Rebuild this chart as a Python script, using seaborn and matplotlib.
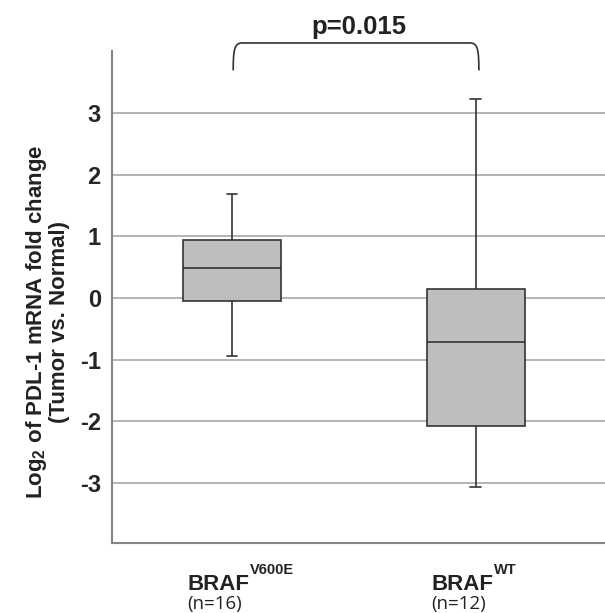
import matplotlib
matplotlib.use("Agg")
import matplotlib.pyplot as plt
from matplotlib.path import Path
from matplotlib.patches import PathPatch
import seaborn as sns
import pandas as pd

# ---- data (five-number summaries) ----
genotypes = ["V600E", "WT"]
n_samples = [16, 12]
v600e_summary = [-0.94, -0.05, 0.49, 0.94, 1.68]   # min, q1, median, q3, max
wt_summary = [-3.06, -2.08, -0.71, 0.15, 3.23]
y_ticks = [-3, -2, -1, 0, 1, 2, 3]
p_value_label = "p=0.015"

df = pd.DataFrame({
    "genotype": [genotypes[0]] * len(v600e_summary) + [genotypes[1]] * len(wt_summary),
    "value": v600e_summary + wt_summary,
})

sns.set_style("white")
plt.rcParams["font.family"] = ["Liberation Sans", "DejaVu Sans"]
plt.rcParams["axes.unicode_minus"] = False
plt.rcParams["mathtext.fontset"] = "custom"
plt.rcParams["mathtext.rm"] = "Liberation Sans"
plt.rcParams["mathtext.bf"] = "Liberation Sans:bold"

fig = plt.figure(figsize=(6.05, 6.13), dpi=100)
ax = fig.add_axes([0.1851, 0.1142, 0.8149, 0.8031])

sns.boxplot(data=df, x="genotype", y="value", order=genotypes, ax=ax,
            whis=(0, 100), width=0.4, color="#bebebe", saturation=1,
            linecolor="#333333", linewidth=1.2, capwidths=0.045)

ax.set_xlim(-0.492, 1.529)
ax.set_ylim(-3.97, 4.01)
ax.set_yticks(y_ticks)
ax.set_yticklabels([str(t) for t in y_ticks], fontsize=17, fontweight="bold")
ax.set_xticks([0, 1])
ax.set_xticklabels(["", ""])
ax.tick_params(axis="both", length=0)
ax.tick_params(axis="y", pad=8)
ax.set_xlabel("")
ax.set_ylabel("")
ax.yaxis.grid(True, color="#a8a8a8", linewidth=1.2)
ax.set_axisbelow(True)
for s in ["top", "right"]:
    ax.spines[s].set_visible(False)
for s in ["left", "bottom"]:
    ax.spines[s].set_color("#858585")
    ax.spines[s].set_linewidth(1.5)

# category labels
trans = ax.get_xaxis_transform()
for i, (g, n) in enumerate(zip(genotypes, n_samples)):
    t = ax.text(i - 0.183, -0.0955, "BRAF", transform=trans, fontsize=16,
                fontweight="bold", ha="left", va="baseline", color="#222222")
    ax.annotate(g, xy=(1, 1), xycoords=t, xytext=(0.3, 0.3),
                textcoords="offset points", fontsize=10.5, fontweight="bold",
                ha="left", va="baseline", color="#222222")
    ax.text(i - 0.183, -0.124, f"(n={n})", transform=trans, fontsize=13.5,
            family="Open Sans", ha="left", va="center", color="#222222")

# y label
fig.text(47 / 605, 1 - 322 / 613,
         "Log$_{\\mathbf{2}}$ of PDL-1 mRNA fold change\n(Tumor vs. Normal)",
         rotation=90, ha="center", va="center", multialignment="center",
         fontsize=16, fontweight="bold", linespacing=1.0, color="#222222")

# significance bracket
x0, x1 = 0.005, 1.012
yb, yt = 3.69, 4.135
dx = 0.035
verts = [(x0, yb), (x0, yb + 0.7 * (yt - yb)), (x0 + 0.1 * dx, yt), (x0 + dx, yt),
         (x1 - dx, yt),
         (x1 - 0.1 * dx, yt), (x1, yb + 0.7 * (yt - yb)), (x1, yb)]
codes = [Path.MOVETO, Path.CURVE4, Path.CURVE4, Path.CURVE4, Path.LINETO,
         Path.CURVE4, Path.CURVE4, Path.CURVE4]
ax.add_patch(PathPatch(Path(verts, codes), facecolor="none", edgecolor="#333333",
                       linewidth=1.2, clip_on=False))
ax.text(0.52, yt + 0.15, p_value_label, ha="center", va="baseline",
        fontsize=18.5, fontweight="bold", color="#222222", clip_on=False)

fig.savefig("out.png", dpi=100)
